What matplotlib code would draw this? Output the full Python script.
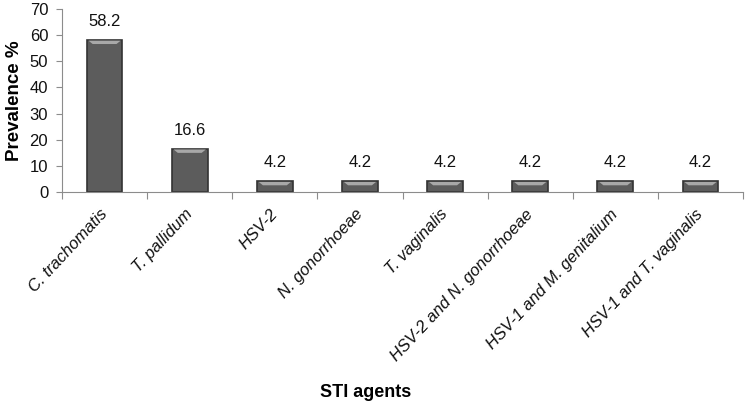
import matplotlib
matplotlib.use("Agg")

import matplotlib.pyplot as plt
import numpy as np

plt.rcParams.update({
    "font.family": ["Liberation Sans", "DejaVu Sans"],
    "figure.facecolor": "white",
    "axes.facecolor": "white",
})

agents = [
    "C. trachomatis",
    "T. pallidum",
    "HSV-2",
    "N. gonorrhoeae",
    "T. vaginalis",
    "HSV-2 and N. gonorrhoeae",
    "HSV-1 and M. genitalium",
    "HSV-1 and T. vaginalis",
]
prevalence = [58.2, 16.6, 4.2, 4.2, 4.2, 4.2, 4.2, 4.2]

BAR = "#5c5c5c"
EDGE = "#333333"
CAP = "#a8a8a8"
AXIS = "#8c8c8c"

fig = plt.figure(figsize=(7.5, 4.07), dpi=100)
ax = fig.add_axes([0.0827, 0.528, 0.908, 0.450])

x = np.arange(len(agents))
width = 0.42
vals = np.array(prevalence)
ax.bar(x, vals, width, color=BAR, edgecolor=EDGE, linewidth=1.2, zorder=2)

# light bevel on top of each bar
bevel = 1.6
inset = 0.07
for xi, v in zip(x, vals):
    l, r = xi - width / 2, xi + width / 2
    ax.fill([l + 0.02, r - 0.02, r - inset, l + inset],
            [v - 0.3, v - 0.3, v - bevel, v - bevel],
            color=CAP, linewidth=0, zorder=3)

for xi, v in zip(x, vals):
    ax.annotate(f"{v:.1f}", (xi, v), xytext=(0, 8), textcoords="offset points",
                ha="center", va="bottom", fontsize=12, color="#111111")

ax.set_xlim(-0.5, len(agents) - 0.5)
ax.set_ylim(0, 70)
ax.set_yticks(range(0, 71, 10))
ax.tick_params(axis="y", labelsize=12, colors=AXIS, labelcolor="#111111",
               length=4, pad=6, direction="out")

ax.set_xticks(np.arange(len(agents) + 1) - 0.5, minor=False)
ax.set_xticklabels([])
ax.set_xticks(x, minor=True)
ax.set_xticklabels(agents, minor=True, rotation=47, ha="right", va="center",
                   rotation_mode="anchor", fontsize=12, style="italic",
                   color="#111111")
ax.tick_params(axis="x", which="major", colors=AXIS, length=5, direction="out")
ax.tick_params(axis="x", which="minor", length=0, pad=14)

for side in ["top", "right"]:
    ax.spines[side].set_visible(False)
for side in ["left", "bottom"]:
    ax.spines[side].set_color(AXIS)

ax.set_ylabel("Prevalence %", fontsize=13.5, fontweight="bold", labelpad=5)
fig.text(0.487, 0.025, "STI agents", ha="center", va="baseline", fontsize=13,
         fontweight="bold", family=["Liberation Sans Narrow", "Liberation Sans"])

fig.savefig("out.png", dpi=100)
